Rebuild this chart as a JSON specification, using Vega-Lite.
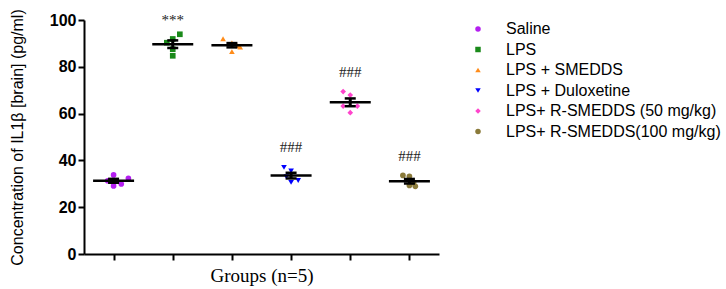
{
  "$schema": "https://vega.github.io/schema/vega-lite/v6.json",
  "width": 355,
  "height": 234,
  "autosize": "none",
  "padding": {"left": 84, "top": 20, "right": 287, "bottom": 35},
  "background": "white",
  "config": {
    "view": {"stroke": null},
    "font": "Liberation Sans"
  },
  "datasets": {
    "pts": [
      {"group": "Saline", "gx": 1, "pos": 1.0, "value": 33.8},
      {"group": "Saline", "gx": 1, "pos": 1.0, "value": 29.1},
      {"group": "Saline", "gx": 1, "pos": 1.13, "value": 29.9},
      {"group": "Saline", "gx": 1, "pos": 1.25, "value": 32.3},
      {"group": "Saline", "gx": 1, "pos": 0.9, "value": 31.3},
      {"group": "LPS", "gx": 2, "pos": 2.12, "value": 93.9},
      {"group": "LPS", "gx": 2, "pos": 2.0, "value": 91.9},
      {"group": "LPS", "gx": 2, "pos": 1.9, "value": 90.3},
      {"group": "LPS", "gx": 2, "pos": 2.0, "value": 87.5},
      {"group": "LPS", "gx": 2, "pos": 2.0, "value": 84.7},
      {"group": "LPS + SMEDDS", "gx": 3, "pos": 2.85, "value": 92.0},
      {"group": "LPS + SMEDDS", "gx": 3, "pos": 3.0, "value": 90.2},
      {"group": "LPS + SMEDDS", "gx": 3, "pos": 3.1, "value": 89.0},
      {"group": "LPS + SMEDDS", "gx": 3, "pos": 3.0, "value": 86.5},
      {"group": "LPS + SMEDDS", "gx": 3, "pos": 3.14, "value": 88.4},
      {"group": "LPS + Duloxetine", "gx": 4, "pos": 3.88, "value": 37.0},
      {"group": "LPS + Duloxetine", "gx": 4, "pos": 4.0, "value": 35.5},
      {"group": "LPS + Duloxetine", "gx": 4, "pos": 3.92, "value": 33.0},
      {"group": "LPS + Duloxetine", "gx": 4, "pos": 4.0, "value": 30.6},
      {"group": "LPS + Duloxetine", "gx": 4, "pos": 4.12, "value": 31.4},
      {"group": "LPS+ R-SMEDDS (50 mg/kg)", "gx": 5, "pos": 4.88, "value": 69.4},
      {"group": "LPS+ R-SMEDDS (50 mg/kg)", "gx": 5, "pos": 5.0, "value": 67.9},
      {"group": "LPS+ R-SMEDDS (50 mg/kg)", "gx": 5, "pos": 4.88, "value": 63.2},
      {"group": "LPS+ R-SMEDDS (50 mg/kg)", "gx": 5, "pos": 5.12, "value": 63.2},
      {"group": "LPS+ R-SMEDDS (50 mg/kg)", "gx": 5, "pos": 5.0, "value": 60.4},
      {"group": "LPS+ R-SMEDDS(100 mg/kg)", "gx": 6, "pos": 5.89, "value": 33.6},
      {"group": "LPS+ R-SMEDDS(100 mg/kg)", "gx": 6, "pos": 6.0, "value": 33.2},
      {"group": "LPS+ R-SMEDDS(100 mg/kg)", "gx": 6, "pos": 6.07, "value": 30.5},
      {"group": "LPS+ R-SMEDDS(100 mg/kg)", "gx": 6, "pos": 6.0, "value": 29.3},
      {"group": "LPS+ R-SMEDDS(100 mg/kg)", "gx": 6, "pos": 6.1, "value": 28.9}
    ],
    "notes": [
      {"gx": 2, "value": 100, "label": "***"},
      {"gx": 4, "value": 45.7, "label": "###"},
      {"gx": 5, "value": 77.8, "label": "###"},
      {"gx": 6, "value": 41.9, "label": "###"}
    ]
  },
  "data": {"name": "pts"},
  "layer": [
    {
      "mark": {"type": "point", "filled": true, "size": 32, "opacity": 1},
      "encoding": {
        "x": {
          "field": "pos", "type": "quantitative",
          "scale": {"domain": [0.5, 6.5], "nice": false, "zero": false},
          "axis": {
            "values": [1, 2, 3, 4, 5, 6], "labels": false, "grid": false,
            "domainColor": "black", "domainWidth": 2, "tickColor": "black", "tickWidth": 2, "tickSize": 6,
            "title": "Groups (n=5)", "titleFont": "Liberation Serif", "titleFontSize": 19,
            "titleFontWeight": "normal", "titleColor": "black", "titlePadding": 5
          }
        },
        "y": {
          "field": "value", "type": "quantitative",
          "scale": {"domain": [0, 100], "nice": false},
          "axis": {
            "values": [0, 20, 40, 60, 80, 100], "grid": false,
            "domainColor": "black", "domainWidth": 2, "tickColor": "black", "tickWidth": 2, "tickSize": 6,
            "labelFont": "Liberation Sans", "labelFontSize": 16, "labelFontWeight": "bold", "labelColor": "black",
            "labelPadding": 2,
            "title": "Concentration of IL1β [brain] (pg/ml)", "titleFont": "Liberation Sans", "titleFontSize": 16,
            "titleFontWeight": "normal", "titleColor": "black", "titlePadding": 24
          }
        },
        "color": {
          "field": "group", "type": "nominal",
          "scale": {
            "domain": ["Saline", "LPS", "LPS + SMEDDS", "LPS + Duloxetine", "LPS+ R-SMEDDS (50 mg/kg)", "LPS+ R-SMEDDS(100 mg/kg)"],
            "range": ["#b41ff0", "#1a8a1a", "#ff8c1a", "#0000ff", "#ff44cc", "#8a7a3a"]
          },
          "legend": {
            "title": null, "orient": "none", "legendX": 386, "legendY": 1,
            "labelFont": "Liberation Sans", "labelFontSize": 16, "labelColor": "black", "labelLimit": 400,
            "symbolSize": 30, "rowPadding": 4.5, "labelOffset": 20
          }
        },
        "shape": {
          "field": "group", "type": "nominal",
          "scale": {
            "domain": ["Saline", "LPS", "LPS + SMEDDS", "LPS + Duloxetine", "LPS+ R-SMEDDS (50 mg/kg)", "LPS+ R-SMEDDS(100 mg/kg)"],
            "range": ["circle", "square", "triangle-up", "triangle-down", "diamond", "circle"]
          },
          "legend": {
            "title": null, "orient": "none", "legendX": 386, "legendY": 1,
            "labelFont": "Liberation Sans", "labelFontSize": 16, "labelColor": "black", "labelLimit": 400,
            "symbolSize": 30, "rowPadding": 4.5, "labelOffset": 20
          }
        }
      }
    },
    {
      "transform": [
        {"aggregate": [{"op": "mean", "field": "value", "as": "m"}, {"op": "stderr", "field": "value", "as": "se"}], "groupby": ["gx"]},
        {"calculate": "datum.m - datum.se", "as": "lo"},
        {"calculate": "datum.m + datum.se", "as": "hi"}
      ],
      "layer": [
        {
          "mark": {"type": "rule", "color": "black", "strokeWidth": 3},
          "encoding": {
            "x": {"field": "gx", "type": "quantitative"},
            "y": {"field": "lo", "type": "quantitative"},
            "y2": {"field": "hi"}
          }
        },
        {
          "mark": {"type": "tick", "orient": "horizontal", "color": "black", "size": 11, "thickness": 2.5, "opacity": 1},
          "encoding": {
            "x": {"field": "gx", "type": "quantitative"},
            "y": {"field": "lo", "type": "quantitative"}
          }
        },
        {
          "mark": {"type": "tick", "orient": "horizontal", "color": "black", "size": 11, "thickness": 2.5, "opacity": 1},
          "encoding": {
            "x": {"field": "gx", "type": "quantitative"},
            "y": {"field": "hi", "type": "quantitative"}
          }
        },
        {
          "mark": {"type": "tick", "orient": "horizontal", "color": "black", "size": 41, "thickness": 2.5, "opacity": 1},
          "encoding": {
            "x": {"field": "gx", "type": "quantitative"},
            "y": {"field": "m", "type": "quantitative"}
          }
        }
      ]
    },
    {
      "data": {"name": "notes"},
      "mark": {"type": "text", "font": "Liberation Serif", "fontSize": 15, "color": "#222", "baseline": "middle"},
      "encoding": {
        "x": {"field": "gx", "type": "quantitative"},
        "y": {"field": "value", "type": "quantitative"},
        "text": {"field": "label"}
      }
    }
  ]
}
